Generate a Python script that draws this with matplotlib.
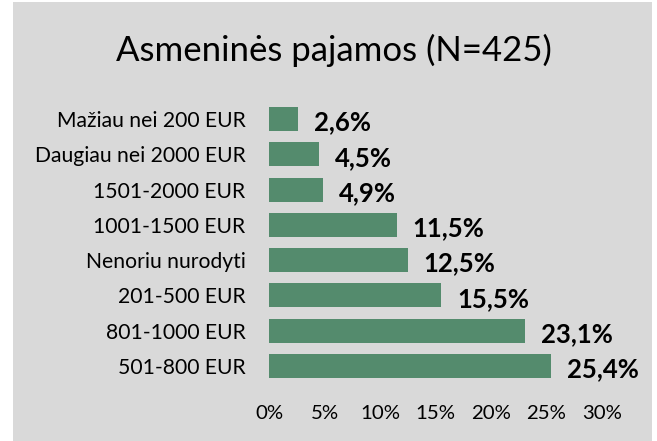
import matplotlib
matplotlib.use("Agg")
import matplotlib.pyplot as plt
from matplotlib.patches import Rectangle

categories = ["501-800 EUR", "801-1000 EUR", "201-500 EUR", "Nenoriu nurodyti",
              "1001-1500 EUR", "1501-2000 EUR", "Daugiau nei 2000 EUR", "Mažiau nei 200 EUR"]
values = [25.4, 23.1, 15.5, 12.5, 11.5, 4.9, 4.5, 2.6]
value_labels = ["25,4%", "23,1%", "15,5%", "12,5%", "11,5%", "4,9%", "4,5%", "2,6%"]
xticks = [0, 5, 10, 15, 20, 25, 30]
xtick_labels = ["0%", "5%", "10%", "15%", "20%", "25%", "30%"]
title = "Asmeninės pajamos (N=425)"

plt.rcParams['font.family'] = ['Lato', 'DejaVu Sans']

W, H = 657, 441
fig = plt.figure(figsize=(W / 100, H / 100), dpi=100)
fig.patch.set_facecolor("white")
fig.patches.append(Rectangle((13 / W, 0), 639 / W, 439 / H, transform=fig.transFigure,
                             facecolor="#d9d9d9", edgecolor="none", zorder=-10))

ax = fig.add_axes([269 / W, 1 - 383.6 / H, (602 - 269) / W, (383.6 - 101.4) / H])
ax.set_facecolor("none")
y = list(range(len(categories)))
ax.barh(y, values, height=0.68, color="#548b6d", edgecolor="none")
ax.set_xlim(0, 30)
ax.set_ylim(-0.5, len(categories) - 0.5)
ax.set_yticks(y)
ax.set_yticklabels(categories, fontsize=15.2)
ax.set_xticks(xticks)
ax.set_xticklabels(xtick_labels, fontsize=14.7)
ax.tick_params(axis="y", length=0, pad=17)
ax.tick_params(axis="x", length=0, pad=15.5)
for s in ax.spines.values():
    s.set_visible(False)

for yi, v, lab in zip(y, values, value_labels):
    ax.annotate(lab, (v, yi), xytext=(11.5, -2.5), textcoords="offset points",
                ha="left", va="center", fontsize=18.5, fontweight="bold", color="black")

fig.text(334 / W, 1 - 50 / H, title, ha="center", va="center", fontsize=25, color="black")

fig.savefig("out.png", dpi=100)
